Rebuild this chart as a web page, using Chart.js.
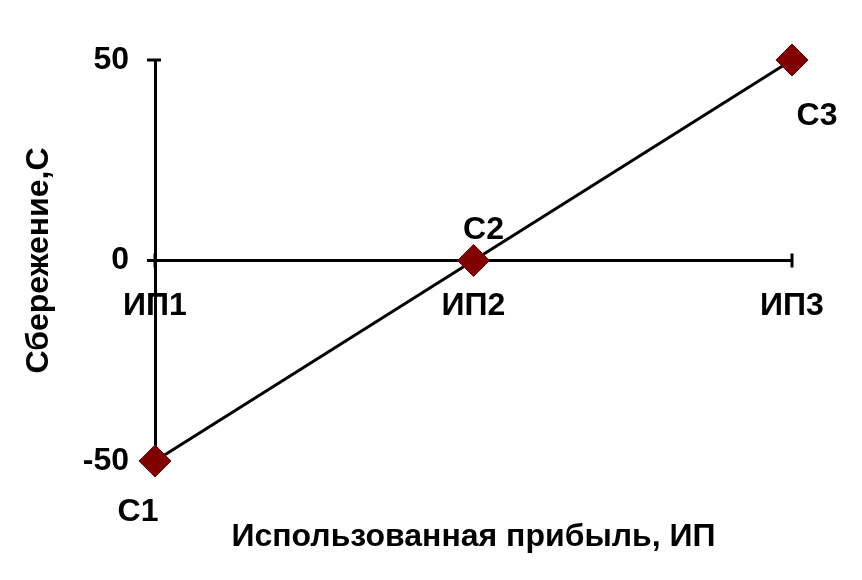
<!DOCTYPE html>
<html><head><meta charset="utf-8">
<script src="https://cdn.jsdelivr.net/npm/chart.js@4.4.1/dist/chart.umd.min.js"></script>
<style>html,body{margin:0;padding:0;background:#fff}canvas{display:block}</style>
</head><body>
<canvas id="c" width="862" height="580"></canvas>
<script>
const categories = ['ИП1', 'ИП2', 'ИП3'];
const savings = [-50, 0, 50];
const pointLabels = ['С1', 'С2', 'С3'];
const yTicks = [-50, 0, 50];
const xTitle = 'Использованная прибыль, ИП';
const yTitle = 'Сбережение,С';

const FONT = {family: '"Liberation Sans", Arial, sans-serif', size: 32, weight: 'bold'};

const labelOffsets = [[-17, 51], [10, -30], [25, 56]];

const crossTicks = {
  id: 'crossTicks',
  beforeDatasetsDraw(chart) {
    const {ctx} = chart;
    const x = chart.scales.x, y = chart.scales.y;
    const x0 = chart.chartArea.left;
    const y0 = y.getPixelForValue(0);
    ctx.save();
    ctx.strokeStyle = '#000';
    ctx.lineWidth = 3;
    yTicks.forEach(v => {
      const py = y.getPixelForValue(v);
      ctx.beginPath(); ctx.moveTo(x0 - 8, py); ctx.lineTo(x0 + 6, py); ctx.stroke();
    });
    categories.forEach((c, i) => {
      const px = x.getPixelForValue(i);
      ctx.beginPath(); ctx.moveTo(px, y0 - 7); ctx.lineTo(px, y0 + 7); ctx.stroke();
    });
    ctx.restore();
  },
  afterDraw(chart) {
    const {ctx} = chart;
    const meta = chart.getDatasetMeta(0);
    ctx.save();
    ctx.font = `bold ${FONT.size}px ${FONT.family}`;
    ctx.fillStyle = '#000';
    ctx.textAlign = 'center';
    ctx.textBaseline = 'middle';
    meta.data.forEach((pt, i) => {
      ctx.fillText(pointLabels[i], pt.x + labelOffsets[i][0], pt.y + labelOffsets[i][1]);
    });
    ctx.restore();
  }
};

new Chart(document.getElementById('c'), {
  type: 'line',
  data: {
    labels: categories,
    datasets: [{
      data: savings,
      borderColor: '#000',
      borderWidth: 3,
      pointStyle: 'rectRot',
      pointRadius: 16,
      pointBorderWidth: 1,
      pointBackgroundColor: '#800000',
      pointBorderColor: '#800000',
      tension: 0,
      clip: false,
      xAxisID: 'x',
      yAxisID: 'y'
    }]
  },
  options: {
    responsive: false,
    animation: false,
    events: [],
    layout: {padding: {top: 60, right: 70, left: 0, bottom: 0}},
    plugins: {legend: {display: false}, tooltip: {enabled: false}, title: {display: false}},
    scales: {
      x: {
        type: 'category',
        position: {y: 0},
        offset: false,
        grid: {display: false},
        border: {display: true, color: '#000', width: 3},
        ticks: {color: '#000', font: FONT, padding: 18, maxRotation: 0, autoSkip: false}
      },
      x2: {
        type: 'category',
        position: 'bottom',
        offset: false,
        grid: {display: false},
        border: {display: false},
        ticks: {display: false},
        title: {display: true, text: xTitle, color: '#000', font: FONT, padding: {top: 0, bottom: 24}},
        afterFit(s) { s.height = 119; }
      },
      y: {
        type: 'linear',
        position: 'left',
        min: -50, max: 50,
        afterBuildTicks(s) { s.ticks = yTicks.map(v => ({value: v})); },
        grid: {display: false},
        border: {display: true, color: '#000', width: 3},
        ticks: {color: '#000', font: FONT, padding: 18},
        title: {display: true, text: yTitle, color: '#000', font: FONT, padding: {top: 20, bottom: 0}},
        afterFit(s) { s.width = 155; }
      }
    }
  },
  plugins: [crossTicks]
});
</script>
</body></html>
